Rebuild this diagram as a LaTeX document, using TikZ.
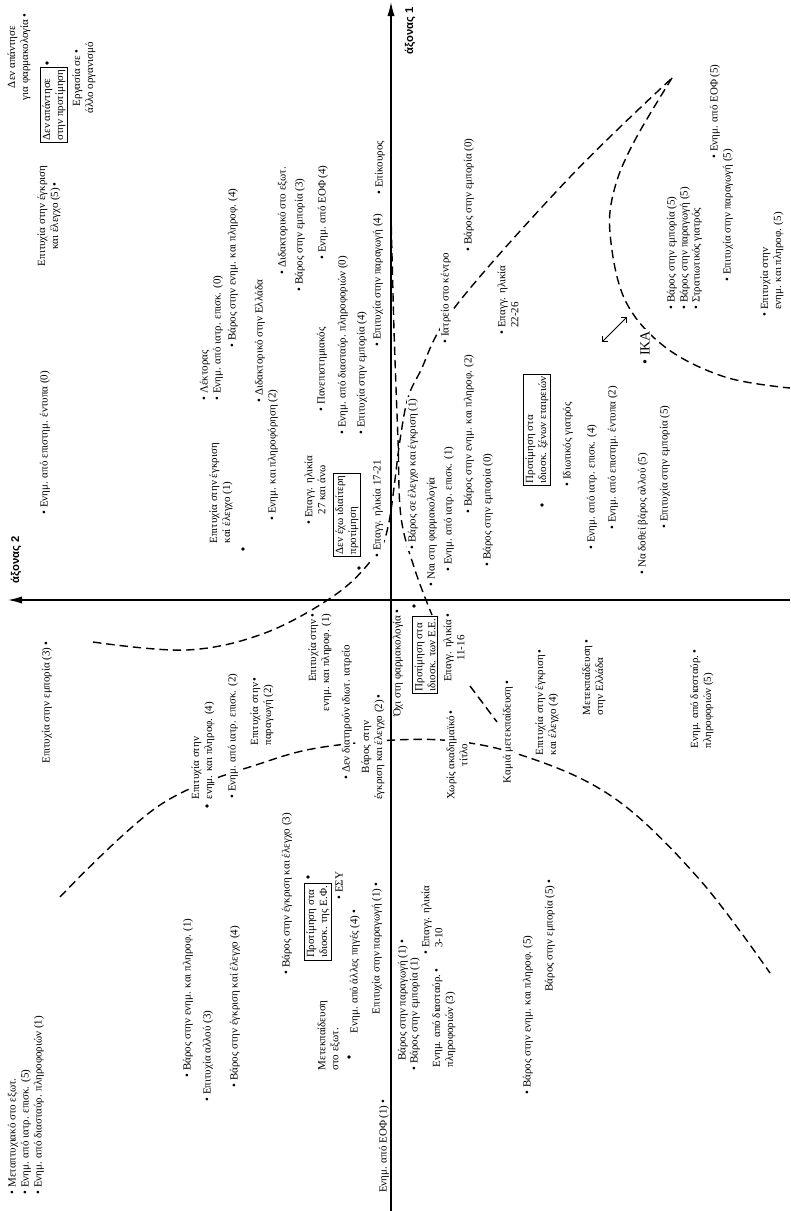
\documentclass[tikz,border=0pt]{standalone}
\usepackage{fontspec}
\setmainfont{Liberation Serif}
\newfontfamily\axfont{Liberation Sans}
\usetikzlibrary{arrows.meta}
\newcommand{\lblfont}{\fontsize{7.8}{9.2}\selectfont}
\newcommand{\blt}{\textbullet\ }
\newcommand{\hng}{\hphantom{\textbullet\ }}
\newcommand{\eb}{\,\textbullet}
\tikzset{
    corresp/.style={x=0.025cm, y=-0.025cm, font=\lblfont},
    lbl/.style={rotate=90, inner sep=1pt, fill=white},
    boxlbl/.style={lbl, draw, line width=0.7pt, align=left, inner sep=1.5pt},
    bdot/.style={circle, fill, inner sep=0pt, minimum size=2.8pt},
    axislbl/.style={rotate=90, inner sep=1pt, font=\axfont\bfseries\fontsize{8}{9}\selectfont},
    axisarrow/.style={line width=0.9pt, -{Latex[length=3.5mm, width=1.8mm]}},
    regionline/.style={line width=1pt, dash pattern=on 6pt off 3.5pt},
    dblarrow/.style={line width=0.6pt, {Straight Barb[length=3pt]}-{Straight Barb[length=3pt]}},
}

\begin{document}
\begin{tikzpicture}[corresp]
    \useasboundingbox (0,0) rectangle (790,1211);

    % axes
    \coordinate (o1) at (391,1211);
    \coordinate (e1) at (391,2);
    \coordinate (o2) at (790,600);
    \coordinate (e2) at (8,600);
    \draw[axisarrow] (o1) -- (e1);
    \draw[axisarrow] (o2) -- (e2);
    \node[axislbl, anchor=west] (ax1) at (410,56)  {άξονας 1};
    \node[axislbl, anchor=west] (ax2) at (16,585)  {άξονας 2};

    % dashed boundaries
    \draw[regionline] plot[smooth, tension=0.6] coordinates {(93,642) (187,650) (265,633) (335,595) (373,558) (388,527) (400,440) (408,398) (420,372) (455,307) (570,177) (672,78)};
    \draw[regionline] plot[smooth, tension=0.6] coordinates {(391,213) (394,330) (398,440) (401,517) (415,570) (432,615)};
    \draw[regionline] (470,686) -- (497,722);
    \draw[regionline] plot[smooth, tension=0.6] coordinates {(672,78) (635,140) (615,187) (610,233) (625,300) (665,347) (725,377) (790,388)};
    \draw[regionline] plot[smooth, tension=0.6] coordinates {(60,897) (160,805) (265,762) (338,745) (442,740) (530,758) (617,800) (700,880) (770,973)};

    % upper left
    \node[lbl, align=center]   (nophar) at (19,57)   {Δεν απάντησε\\για φαρμακολογία\eb};
    \node[boxlbl]              (nopref) at (54,105)  {Δεν απάντησε\\στην προτίμηση};
    \node[bdot]                (noprefd) at (47,63)  {};
    \node[lbl, align=center]   (allorg) at (84,78)   {Εργασία σε\eb\\άλλο οργανισμό};
    \node[lbl, align=center]   (egkr5)  at (49,216)  {Επιτυχία στην έγκριση\\και έλεγχο (5)\eb};
    \node[lbl, anchor=west]    (epist0) at (45,516)  {\blt Ενημ. από επιστημ. έντυπα (0)};
    \node[lbl, anchor=west]    (lekt)   at (205,402) {\blt Λέκτορας};
    \node[lbl, anchor=west]    (iatr0)  at (218,402) {\blt Ενημ. από ιατρ. επισκ. (0)};
    \node[lbl, anchor=west]    (enpl4)  at (233,349) {\blt Βάρος στην ενημ. και πληροφ. (4)};
    \node[lbl, align=left, anchor=west] (egkr1) at (221,545) {Επιτυχία στην έγκριση\\καί έλεγχο (1)};
    \node[bdot]                (egkr1d) at (243,549) {};
    \node[lbl, anchor=west]    (didel)  at (260,404) {\blt Διδακτορικό στην Ελλάδα};
    \node[lbl, anchor=west]    (enpl2)  at (273,522) {\blt Ενημ. και πληροφόρηση (2)};
    \node[lbl, anchor=west]    (didex)  at (283,276) {\blt Διδακτορικό στο εξωτ.};
    \node[lbl, anchor=west]    (emp3)   at (300,293) {\blt Βάρος στην εμπορία (3)};
    \node[lbl, anchor=west]    (eof4)   at (323,261) {\blt Ενημ. από ΕΟΦ (4)};
    \node[lbl, anchor=west]    (panep)  at (322,413) {\blt Πανεπιστημιακός};
    \node[lbl, anchor=west]    (diast0) at (343,436) {\blt Ενημ. από διασταύρ. πληροφοριών (0)};
    \node[lbl, anchor=west]    (epemp4) at (362,436) {\blt Επιτυχία στην εμπορία (4)};
    \node[lbl, anchor=west]    (epar4)  at (378,348) {\blt Επιτυχία στην παραγωγή (4)};
    \node[lbl, anchor=west]    (epik)   at (380,196) {\blt Επίκουρος};
    \node[lbl, align=center]   (age27)  at (315,490) {\blt Επαγγ. ηλικία\\27 και άνω};
    \node[boxlbl]              (nopart) at (347,515) {Δεν έχω ιδιαίτερη\\προτίμηση};
    \node[bdot]                (nopartd) at (359,568) {};
    \node[lbl, anchor=west]    (age17)  at (378,559) {\blt Επαγγ. ηλικία 17-21};

    % upper right
    \node[lbl, anchor=west]    (egk1)   at (413,551) {\blt Βάρος σε έλεγχο και έγκριση (1)};
    \node[lbl, anchor=west]    (naiph)  at (432,588) {\blt Ναι στη φαρμακολογία};
    \node[lbl, anchor=west]    (iatr1)  at (449,573) {\blt Ενημ. από ιατρ. επισκ. (1)};
    \node[lbl, anchor=west]    (enpl2b) at (469,515) {\blt Βάρος στην ενημ. και πληροφ. (2)};
    \node[lbl, anchor=west]    (emp0)   at (488,568) {\blt Βάρος στην εμπορία (0)};
    \node[lbl, anchor=west]    (kentro) at (446,345) {\blt Ιατρείο στο κέντρο};
    \node[lbl, anchor=west]    (emp0b)  at (469,253) {\blt Βάρος στην εμπορία (0)};
    \node[lbl, align=left, anchor=west] (age22) at (508,336) {\blt Επαγγ. ηλικία\\\hng 22-26};
    \node[boxlbl]              (xenes)  at (537,430) {Προτίμηση στα\\ιδιοσκ. ξένων εταιρειών};
    \node[bdot]                (xenesd) at (542,505) {};
    \node[lbl, anchor=west]    (idiot)  at (568,488) {\blt Ιδιωτικός γιατρός};
    \node[lbl, anchor=west]    (iatr4)  at (592,551) {\blt Ενημ. από ιατρ. επισκ. (4)};
    \node[lbl, anchor=west]    (epist2) at (613,531) {\blt Ενημ. από επιστημ. έντυπα (2)};
    \node[lbl, anchor=west]    (allou5) at (643,576) {\blt Να δοθεί βάρος αλλού (5)};
    \node[lbl, anchor=west]    (epemp5) at (665,530) {\blt Επιτυχία στην εμπορία (5)};
    \node[lbl, anchor=west, font=\fontsize{10}{12}\selectfont] (ika) at (645,366) {\blt ΙΚΑ};
    \node[lbl, anchor=west]    (emp5)   at (672,311) {\blt Βάρος στην εμπορία (5)};
    \node[lbl, anchor=west]    (par5)   at (685,311) {\blt Βάρος στην παραγωγή (5)};
    \node[lbl, anchor=west]    (strat)  at (697,311) {\blt Στρατιωτικός γιατρός};
    \node[lbl, anchor=west]    (eof5)   at (715,160) {\blt Ενημ. από ΕΟΦ (5)};
    \node[lbl, anchor=west]    (epar5)  at (728,283) {\blt Επιτυχία στην παραγωγή (5)};
    \node[lbl, align=left, anchor=west] (epen5) at (772,318) {\blt Επιτυχία στην\\\hng ενημ. και πληροφ. (5)};

    % double arrow
    \coordinate (arrA) at (602,342);
    \coordinate (arrB) at (627,317);
    \draw[dblarrow] (arrA) -- (arrB);

    % lower left
    \node[lbl, anchor=east]    (epemp3) at (47,640)  {Επιτυχία στην εμπορία (3)\eb};
    \node[lbl, align=left, anchor=west] (epen4) at (203,801) {Επιτυχία στην\\ενημ. και πληροφ. (4)};
    \node[bdot]                (epen4d) at (207,806) {};
    \node[lbl, anchor=west]    (iatr2)  at (233,800) {\blt Ενημ. από ιατρ. επισκ. (2)};
    \node[lbl, align=left, anchor=west] (epar2) at (262,747) {Επιτυχία στην\eb\\παραγωγή (2)};
    \node[lbl, align=right, anchor=east] (epen1) at (320,612) {Επιτυχία στην\eb\\ενημ. και πληροφ. (1)};
    \node[lbl, anchor=west]    (diatir) at (347,781) {\blt Δεν διατηρούν ιδιωτ. ιατρείο};
    \node[lbl, align=center]   (egkr2)  at (373,747) {Βάρος στην\\έγκριση και έλεγχο (2)\eb};
    \node[lbl, anchor=west]    (metex)  at (13,1196) {\blt Μεταπτυχιακό στο εξωτ.};
    \node[lbl, anchor=west]    (iatr5)  at (26,1196) {\blt Ενημ. από ιατρ. επισκ. (5)};
    \node[lbl, anchor=west]    (diast1) at (39,1196) {\blt Ενημ. από διασταύρ. πληροφοριών (1)};
    \node[lbl, anchor=west]    (enpl1)  at (188,1079) {\blt Βάρος στην ενημ. και πληροφ. (1)};
    \node[lbl, anchor=west]    (allou3) at (208,1103) {\blt Επιτυχία αλλού (3)};
    \node[lbl, anchor=west]    (egkr4b) at (235,1089) {\blt Βάρος στην έγκριση καί έλεγχο (4)};
    \node[lbl, anchor=west]    (egkr3)  at (287,976) {\blt Βάρος στην έγκριση και έλεγχο (3)};
    \node[boxlbl]              (ef)     at (318,922) {Προτίμηση στα\\ιδιοσκ. της Ε.Φ.};
    \node[bdot]                (efd)    at (308,877) {};
    \node[lbl, anchor=west]    (esy)    at (339,901) {\blt ΕΣΥ};
    \node[lbl, align=left, anchor=west] (metexo) at (329,1072) {Μετεκπαίδευση\\στο εξωτ.};
    \node[bdot]                (metexod) at (349,1057) {};
    \node[lbl, anchor=east]    (piges)  at (355,908) {Ενημ. από άλλες πηγές (4)\eb};
    \node[lbl, anchor=east]    (epar1)  at (377,881) {Επιτυχία στην παραγωγή (1)\eb};
    \node[lbl, anchor=east]    (eof1)   at (384,1098) {Ενημ. από ΕΟΦ (1)\eb};

    % lower right
    \node[lbl, anchor=east]    (oxiph)  at (398,608) {Όχι στη φαρμακολογία\eb};
    \node[boxlbl]              (ee)     at (425,655) {Προτίμηση στα\\ιδιοσκ. των Ε.Ε.};
    \node[bdot]                (eed)    at (414,606) {};
    \node[lbl, align=center]   (age11)  at (454,648) {Επαγγ. ηλικία\eb\\11-16};
    \node[lbl, align=center]   (titlo)  at (457,755) {Χωρίς ακαδημαϊκό\eb\\τίτλο};
    \node[lbl, anchor=east]    (kamia)  at (508,679) {Καμιά μετεκπαίδευση\eb};
    \node[lbl, align=left, anchor=west] (egkr4) at (547,757) {Επιτυχία στην έγκριση\eb\\και έλεγχο (4)};
    \node[lbl, align=left, anchor=west] (metel) at (594,717) {Μετεκπαίδευση\eb\\στην Ελλάδα};
    \node[lbl, align=left, anchor=west] (diast5) at (702,750) {Ενημ. από διασταύρ.\eb\\πληροφοριών (5)};
    \node[lbl, anchor=east]    (par1)   at (403,938) {Βάρος στην παραγωγή (1)\eb};
    \node[lbl, anchor=west]    (emp1)   at (415,1072) {\blt Βάρος στην εμπορία (1)};
    \node[lbl, align=left, anchor=west] (age3) at (432,956) {\blt Επαγγ. ηλικία\\\hng 3-10};
    \node[lbl, align=left, anchor=west] (diast3) at (444,1069) {Ενημ. από διασταύρ.\eb\\πληροφοριών (3)};
    \node[lbl, anchor=west]    (enpl5)  at (528,1096) {\blt Βάρος στην ενημ. και πληροφ. (5)};
    \node[lbl, anchor=east]    (emp5b)  at (550,878) {Βάρος στην εμπορία (5)\eb};
\end{tikzpicture}
\end{document}
